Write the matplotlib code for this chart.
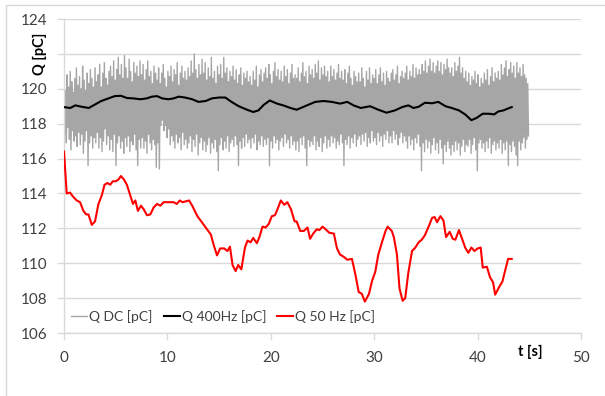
import numpy as np
import matplotlib
matplotlib.use("Agg")
import matplotlib.pyplot as plt
from matplotlib.patches import Rectangle

plt.rcParams['font.family'] = ['Lato', 'DejaVu Sans']

# Q DC [pC] - noisy signal, upper and lower swings read every 0.15 s
dc_hi = [120.3, 119.9, 120.8, 120.1, 121.0, 120.4, 119.8, 120.6, 121.2, 120.2,
         120.7, 120.0, 121.3, 120.5, 119.9, 120.9, 120.3, 121.1, 120.6, 120.1,
         121.2, 120.4, 120.8, 121.4, 120.1, 120.9, 121.5, 120.6, 120.2, 121.0,
         121.3, 120.7, 121.6, 120.5, 121.1, 121.8, 120.8, 121.4, 120.6, 121.9,
         121.2, 120.6, 121.7, 121.0, 120.4, 121.5, 120.9, 121.3, 120.7, 121.6,
         120.8, 121.4, 120.5, 121.1, 121.6, 120.7, 121.0, 120.3, 121.3, 120.9,
         120.5, 121.2, 120.3, 120.9, 121.4, 120.6, 120.1, 121.0, 120.7, 121.3,
         120.4, 121.1, 120.8, 121.5, 120.2, 120.9, 121.3, 120.6, 121.0, 120.5,
         121.2, 120.7, 121.6, 120.9, 122.0, 121.1, 120.6, 121.4, 120.8, 121.7,
         120.9, 121.5, 120.5, 121.2, 120.7, 121.8, 120.6, 121.0, 120.3, 121.3,
         120.8, 121.4, 120.6, 121.8, 120.9, 121.2, 120.4, 121.0, 120.7, 121.3,
         120.5, 121.1, 120.3, 120.8, 121.2, 120.2, 120.9, 120.6, 121.0, 120.4,
         120.7, 120.2, 121.0, 120.5, 121.3, 120.1, 120.8, 121.1, 120.4, 120.9,
         121.2, 120.6, 121.4, 120.8, 120.3, 121.0, 121.5, 120.7, 121.1, 120.5,
         121.0, 120.4, 121.3, 120.7, 121.1, 120.3, 120.9, 121.4, 120.6, 120.8,
         120.6, 121.2, 120.4, 120.9, 121.5, 120.7, 121.0, 120.3, 121.3, 120.8,
         121.1, 120.6, 121.4, 120.9, 121.6, 120.5, 121.2, 120.8, 121.3, 120.7,
         121.0, 120.4, 121.3, 120.7, 121.1, 120.5, 120.9, 121.4, 120.6, 121.0,
         120.5, 121.1, 120.3, 120.9, 121.3, 120.6, 120.2, 121.0, 120.7, 120.4,
         120.9, 120.4, 121.2, 120.6, 120.1, 121.0, 120.5, 121.2, 120.3, 120.8,
         120.6, 121.1, 120.3, 120.8, 121.2, 120.4, 120.9, 120.2, 121.0, 120.6,
         120.4, 120.9, 121.1, 120.5, 120.8, 121.3, 120.3, 120.7, 121.0, 120.6,
         120.9, 121.3, 120.5, 121.0, 120.7, 121.4, 120.6, 121.2, 120.8, 121.1,
         120.8, 121.4, 121.0, 121.6, 120.9, 121.3, 121.7, 121.0, 121.5, 120.9,
         121.3, 121.6, 121.0, 121.5, 120.8, 121.4, 121.1, 121.7, 121.2, 120.9,
         121.2, 120.7, 121.5, 121.0, 121.3, 121.8, 120.9, 121.2, 120.6, 121.0,
         120.4, 120.9, 120.2, 120.7, 120.5, 121.0, 120.3, 120.8, 120.1, 120.6,
         120.3, 120.9, 120.5, 121.1, 120.2, 120.7, 121.2, 120.4, 120.9, 120.6,
         121.0, 120.5, 121.4, 120.8, 121.2, 121.6, 120.7, 121.1, 121.5, 120.9,
         121.3, 120.6, 121.5, 120.9, 121.2, 120.7, 121.4, 120.8, 120.6, 120.3]
dc_lo = [117.4, 116.9, 117.8, 117.1, 116.5, 117.6, 117.0, 117.3, 116.7, 117.5,
         116.8, 117.4, 116.3, 117.0, 117.6, 115.6, 116.9, 117.3, 116.6, 117.2,
         116.9, 117.5, 116.6, 117.2, 116.4, 117.0, 117.7, 116.8, 117.3, 116.5,
         117.1, 116.4, 117.4, 115.6, 116.9, 117.3, 116.6, 117.0, 116.3, 117.2,
         116.7, 117.3, 116.4, 117.0, 116.8, 117.4, 116.5, 115.6, 117.1, 116.6,
         117.2, 116.6, 117.0, 116.3, 117.4, 116.9, 116.5, 117.1, 116.8, 115.5,
         116.9, 115.4, 117.9, 118.2, 117.6, 117.9, 117.2, 117.7, 116.8, 117.3,
         117.0, 116.6, 117.4, 116.9, 117.2, 116.5, 117.5, 116.8, 117.1, 116.6,
         116.9, 117.3, 116.4, 117.1, 116.7, 117.4, 116.2, 116.9, 117.2, 116.5,
         117.0, 116.4, 116.8, 117.2, 116.3, 116.9, 116.6, 117.1, 116.4, 115.3,
         116.8, 117.2, 116.5, 117.0, 116.6, 117.3, 116.4, 116.9, 117.1, 116.7,
         117.3, 116.8, 115.6, 117.0, 116.6, 117.2, 116.7, 117.4, 116.9, 117.1,
         116.6, 117.2, 116.9, 117.4, 116.5, 117.0, 116.8, 117.3, 116.7, 117.1,
         116.8, 117.2, 115.6, 117.0, 116.6, 117.3, 116.9, 117.1, 116.5, 117.0,
         117.2, 116.7, 117.4, 116.9, 117.1, 116.6, 117.3, 116.8, 117.0, 116.5,
         117.0, 116.4, 117.2, 116.8, 117.3, 116.6, 115.6, 117.1, 116.7, 117.0,
         116.8, 117.3, 116.5, 117.0, 116.7, 117.2, 116.4, 116.9, 117.3, 116.6,
         117.1, 116.7, 117.3, 116.9, 117.2, 116.6, 117.0, 116.8, 117.4, 116.9,
         115.6, 117.1, 116.8, 117.3, 116.6, 117.2, 116.9, 117.4, 116.7, 117.1,
         117.3, 116.8, 117.4, 117.0, 117.5, 116.7, 117.2, 116.9, 117.6, 117.0,
         117.2, 116.8, 117.5, 117.0, 117.3, 116.7, 117.4, 117.1, 117.6, 116.9,
         117.3, 116.9, 117.6, 117.1, 117.4, 116.8, 117.2, 117.5, 116.9, 117.3,
         117.0, 116.6, 117.3, 116.8, 117.1, 116.5, 117.2, 116.9, 117.4, 116.7,
         115.3, 116.9, 116.4, 117.1, 116.6, 117.0, 116.3, 116.8, 117.2, 116.5,
         116.9, 116.3, 117.1, 116.6, 115.7, 116.8, 116.4, 117.0, 116.6, 116.2,
         116.8, 116.4, 117.0, 116.5, 116.9, 116.2, 116.7, 117.1, 116.4, 116.8,
         116.7, 117.1, 116.3, 116.8, 117.2, 116.5, 115.3, 116.9, 117.1, 116.6,
         116.9, 116.4, 117.0, 116.6, 117.2, 116.3, 116.8, 117.0, 116.5, 116.9,
         116.6, 117.1, 116.3, 116.9, 116.5, 117.0, 115.6, 116.8, 116.4, 117.0,
         116.7, 116.2, 115.6, 117.0, 116.5, 116.9, 117.2, 116.6, 117.1, 117.3]
dc_step = 0.15

# Q 400Hz [pC]
t_400 = [0.0, 0.6, 1.1, 1.7, 2.4, 3.0, 3.6, 4.3, 4.9, 5.5, 6.1, 6.7, 7.4, 8.0,
         8.5, 9.0, 9.5, 10.1, 10.6, 11.1, 11.7, 12.4, 13.0, 13.7, 14.3, 15.0,
         15.6, 16.2, 16.9, 17.7, 18.3, 18.8, 19.3, 19.9, 20.6, 21.2, 21.9, 22.5,
         23.5, 24.3, 25.1, 25.9, 26.7, 27.4, 28.0, 28.7, 29.6, 30.4, 31.2, 32.0,
         32.7, 33.3, 33.8, 34.3, 34.9, 35.6, 36.2, 36.9, 37.5, 38.2, 38.8, 39.4,
         39.9, 40.5, 41.1, 41.6, 42.0, 42.5, 42.9, 43.3]
q_400 = [118.95, 118.9, 119.05, 118.97, 118.9, 119.1, 119.3, 119.45, 119.58, 119.6,
         119.47, 119.45, 119.4, 119.45, 119.55, 119.58, 119.45, 119.4, 119.45, 119.55,
         119.5, 119.4, 119.25, 119.3, 119.45, 119.5, 119.5, 119.25, 119.0, 118.8,
         118.67, 118.76, 119.07, 119.33, 119.15, 119.05, 118.9, 118.8,
         119.05, 119.25, 119.3, 119.25, 119.15, 119.25, 119.05, 118.9, 119.0, 118.8,
         118.63, 118.76, 118.95, 119.05, 118.9, 118.97, 119.2, 119.17, 119.25, 119.0,
         118.9, 118.76, 118.53, 118.2, 118.33, 118.57, 118.57, 118.53, 118.7, 118.76,
         118.86, 118.95]

# Q 50 Hz [pC]
t_50 = [0.0, 0.26, 0.58, 0.9, 1.23, 1.55, 1.88, 2.14, 2.36, 2.69, 3.0, 3.33, 3.66,
        3.92, 4.2, 4.47, 4.72, 5.0, 5.27, 5.5, 5.8, 6.08, 6.4, 6.67, 6.9, 7.15,
        7.44, 7.7, 8.03, 8.35, 8.67, 9.0, 9.32, 9.64, 9.97, 10.3, 10.6, 10.9,
        11.2, 11.45, 11.8, 12.1, 12.4, 12.9, 13.4, 13.85, 14.2, 14.5, 14.8, 15.1,
        15.5, 15.8, 16.05, 16.3, 16.6, 16.85, 17.15, 17.5, 17.75, 18.05, 18.3,
        18.65, 18.9, 19.2, 19.5, 19.8, 20.1, 20.4, 20.65, 20.97, 21.3, 21.6,
        21.95, 22.3, 22.5, 22.85, 23.2, 23.55, 23.8, 24.1, 24.45, 24.7, 25.0,
        25.3, 25.65, 26.1, 26.4, 26.7, 27.1, 27.4, 27.85, 28.2, 28.5, 28.8, 29.1,
        29.5, 29.8, 30.1, 30.4, 30.8, 31.1, 31.3, 31.7, 31.9, 32.2, 32.45, 32.75,
        33.0, 33.3, 33.66, 33.98, 34.3, 34.6, 34.9, 35.3, 35.6, 35.85, 36.08,
        36.4, 36.7, 36.95, 37.3, 37.6, 37.85, 38.2, 38.5, 38.8, 39.1, 39.4, 39.7,
        40.0, 40.3, 40.5, 40.9, 41.2, 41.5, 41.7, 42.05, 42.4, 42.7, 42.95, 43.3]
q_50 = [116.4, 114.0, 114.05, 113.8, 113.6, 113.5, 113.0, 112.8, 112.8, 112.2,
        112.4, 113.4, 113.9, 114.5, 114.6, 114.5, 114.7, 114.7, 114.8, 115.0,
        114.8, 114.5, 113.9, 113.4, 113.6, 113.0, 113.3, 113.1, 112.75, 112.8,
        113.2, 113.4, 113.3, 113.5, 113.5, 113.5, 113.5, 113.4, 113.6, 113.5,
        113.55, 113.6, 113.3, 112.7, 112.3, 111.95, 111.65, 111.0, 110.45, 110.85,
        110.85, 110.7, 110.95, 109.9, 109.55, 109.9, 109.65, 110.9, 111.3, 111.2,
        111.45, 111.15, 111.5, 112.1, 112.05, 112.25, 112.7, 112.75, 113.1, 113.6,
        113.35, 113.5, 113.1, 112.4, 112.4, 111.85, 111.85, 112.05, 111.4, 111.7,
        111.95, 111.9, 112.1, 111.95, 111.75, 111.7, 110.85, 110.5, 110.35, 110.2,
        110.25, 109.3, 108.35, 108.25, 107.8, 108.25, 109.0, 109.5, 110.5, 111.3,
        111.85, 112.1, 111.85, 111.5, 110.5, 108.55, 107.85, 108.0, 109.45, 110.7,
        110.9, 111.2, 111.35, 111.6, 112.15, 112.6, 112.65, 112.35, 112.7, 112.45,
        111.5, 111.8, 111.4, 111.35, 111.9, 111.4, 110.9, 110.6, 110.9, 110.7,
        110.85, 110.9, 109.75, 109.8, 109.2, 108.9, 108.2, 108.6, 108.95, 109.65,
        110.25, 110.25]

x_ticks = [0, 10, 20, 30, 40, 50]
y_ticks = [106, 108, 110, 112, 114, 116, 118, 120, 122, 124]
# the 122 label is hidden under the axis title in the original
y_tick_labels = ['106', '108', '110', '112', '114', '116', '118', '120', '', '124']

# interleave the upper and lower swings of the DC signal
n = len(dc_hi)
t_dc = np.empty(2 * n)
t_dc[0::2] = np.arange(n) * dc_step
t_dc[1::2] = np.arange(n) * dc_step + dc_step / 2
q_dc = np.empty(2 * n)
q_dc[0::2] = dc_hi
q_dc[1::2] = dc_lo

fig = plt.figure(figsize=(6.05, 3.96), dpi=100)
ax = fig.add_axes([0.1058, 0.159, 0.8545, 0.793])

# outer chart frame
fig.patches.append(Rectangle((0.010, -0.05), 1.1, 1.037, transform=fig.transFigure,
                             fill=False, edgecolor='#D9D9D9', linewidth=1.0))

ax.plot(t_dc, q_dc, color='#A6A6A6', linewidth=1.0, label='Q DC [pC]', zorder=2)
ax.plot(t_400, q_400, color='black', linewidth=1.5, label='Q 400Hz [pC]', zorder=3)
ax.plot(t_50, q_50, color='#FF0000', linewidth=1.5, label='Q 50 Hz [pC]', zorder=3)

ax.set_xlim(0, 50)
ax.set_ylim(106, 124)
ax.set_xticks(x_ticks)
ax.set_yticks(y_ticks)
ax.set_yticklabels(y_tick_labels)
ax.grid(axis='y', color='#D9D9D9', linewidth=1.0, zorder=0)
ax.set_axisbelow(True)

for s in ['top', 'right']:
    ax.spines[s].set_visible(False)
for s in ['left', 'bottom']:
    ax.spines[s].set_color('#D9D9D9')
    ax.spines[s].set_linewidth(1.0)

ax.tick_params(axis='both', colors='#D9D9D9', labelcolor='#404040',
               labelsize=11, length=5, width=1.0)
ax.tick_params(axis='y', pad=7)
ax.tick_params(axis='x', pad=8)

fig.text(40 / 605, 1 - 54 / 396, 'Q [pC]', rotation=90,
         ha='center', va='center', fontsize=10.5, fontweight='bold', color='black')
ax.text(45.1, 104.9, 't [s]', ha='center', va='center',
        fontsize=10.5, fontweight='bold', color='black')

leg = ax.legend(loc='lower left', bbox_to_anchor=(-0.005, 0.0), ncol=3, frameon=False,
                fontsize=10, handlelength=1.15, handletextpad=0.15,
                columnspacing=0.8, borderaxespad=0.3)
for txt in leg.get_texts():
    txt.set_color('#404040')

fig.savefig('out.png', dpi=100)
